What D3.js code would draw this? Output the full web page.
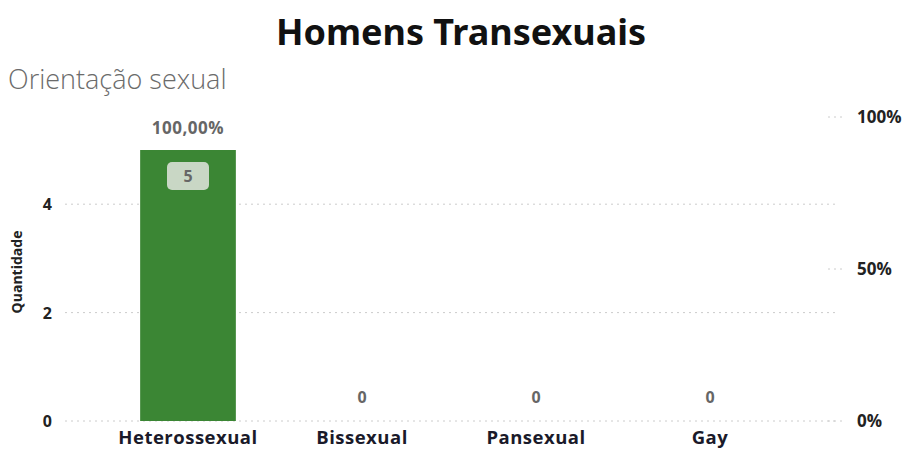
<!DOCTYPE html>
<html>
<head>
<meta charset="utf-8">
<script src="https://cdn.jsdelivr.net/npm/d3@7"></script>
<style>
  body { margin: 0; background: #fff; }
  text { font-family: "Open Sans", "Noto Sans", sans-serif; }
</style>
</head>
<body>
<div id="chart"></div>
<script>
const categories = ["Heterossexual", "Bissexual", "Pansexual", "Gay"];
const counts = [5, 0, 0, 0];
const percentLabels = ["100,00%"];
const leftTicks = [0, 2, 4];
const rightTicks = [0, 0.5, 1];

function buildChart() {
  const width = 913;
  const height = 450;

  const svg = d3.select("#chart")
    .append("svg")
    .attr("width", width)
    .attr("height", height);

  // titles
  svg.append("text")
    .attr("x", 461)
    .attr("y", 45)
    .attr("text-anchor", "middle")
    .style("font-family", "'Noto Sans', sans-serif")
    .style("font-size", "36px")
    .style("font-weight", "bold")
    .style("fill", "#111")
    .text("Homens Transexuais");

  svg.append("text")
    .attr("x", 8)
    .attr("y", 89)
    .style("font-size", "27px")
    .style("font-weight", "300")
    .style("fill", "#6b6b6b")
    .text("Orientação sexual");

  // scales
  const xScale = d3.scaleBand()
    .domain(categories)
    .range([101, 797])
    .paddingInner(0.45)
    .paddingOuter(0.225);

  const yScale = d3.scaleLinear()
    .domain([0, 5])
    .range([421, 150]);

  const yRight = d3.scaleLinear()
    .domain([0, 1])
    .range([421, 117]);

  // gridlines
  svg.append("g")
    .selectAll("line")
    .data(leftTicks)
    .join("line")
    .attr("x1", 65)
    .attr("x2", 835)
    .attr("y1", d => yScale(d))
    .attr("y2", d => yScale(d))
    .attr("stroke", "#ccc")
    .attr("stroke-width", 1)
    .attr("stroke-dasharray", "2,4");

  svg.append("g")
    .selectAll("line")
    .data(rightTicks)
    .join("line")
    .attr("x1", 828)
    .attr("x2", 842)
    .attr("y1", d => yRight(d))
    .attr("y2", d => yRight(d))
    .attr("stroke", "#ccc")
    .attr("stroke-dasharray", "2,4");

  // left axis
  const yAxis = d3.axisLeft(yScale).tickValues(leftTicks)
    .tickFormat(d3.format("d"))
    .tickSize(0).tickPadding(0);
  const gy = svg.append("g")
    .attr("transform", "translate(52,0)")
    .call(yAxis);
  gy.select(".domain").remove();
  gy.selectAll("text")
    .attr("dy", "0.35em")
    .style("font-size", "16px")
    .style("font-weight", "bold")
    .style("fill", "#222");

  // right axis
  const rAxis = d3.axisRight(yRight).tickValues(rightTicks)
    .tickFormat(d => Math.round(d * 100) + "%")
    .tickSize(0).tickPadding(0);
  const gr = svg.append("g")
    .attr("transform", "translate(857,0)")
    .call(rAxis);
  gr.select(".domain").remove();
  gr.selectAll("text")
    .attr("dy", "0.35em")
    .style("font-size", "17px")
    .style("font-weight", "bold")
    .style("fill", "#222");

  // y axis title
  svg.append("text")
    .attr("transform", "translate(22,272) rotate(-90)")
    .attr("text-anchor", "middle")
    .style("font-size", "14px")
    .style("font-weight", "bold")
    .style("fill", "#222")
    .text("Quantidade");

  // bars
  svg.append("g")
    .selectAll("rect")
    .data(categories)
    .join("rect")
    .attr("x", (d) => xScale(d))
    .attr("y", (d, i) => yScale(counts[i]))
    .attr("width", xScale.bandwidth())
    .attr("height", (d, i) => yScale(0) - yScale(counts[i]))
    .attr("fill", "#3b8634");

  // value labels
  categories.forEach((c, i) => {
    const cx = xScale(c) + xScale.bandwidth() / 2;
    if (counts[i] > 0) {
      svg.append("rect")
        .attr("x", cx - 21)
        .attr("y", yScale(counts[i]) + 12)
        .attr("width", 42)
        .attr("height", 28)
        .attr("rx", 5)
        .attr("fill", "#c9d7c5");
      svg.append("text")
        .attr("x", cx)
        .attr("y", yScale(counts[i]) + 26)
        .attr("dy", "0.35em")
        .attr("text-anchor", "middle")
        .style("font-size", "16px")
        .style("font-weight", "bold")
        .style("fill", "#666")
        .text(counts[i]);
      svg.append("text")
        .attr("x", cx)
        .attr("y", yScale(counts[i]) - 16)
        .attr("text-anchor", "middle")
        .style("font-size", "17px")
        .style("font-weight", "bold")
        .style("letter-spacing", "0.5px")
        .style("fill", "#666")
        .text(percentLabels[i]);
    } else {
      svg.append("text")
        .attr("x", cx)
        .attr("y", yScale(0) - 24)
        .attr("dy", "0.35em")
        .attr("text-anchor", "middle")
        .style("font-size", "16px")
        .style("font-weight", "bold")
        .style("fill", "#666")
        .text(counts[i]);
    }
  });

  // x axis
  const xAxis = d3.axisBottom(xScale).tickSize(0).tickPadding(0);
  const gx = svg.append("g")
    .attr("transform", "translate(0,431)")
    .call(xAxis);
  gx.select(".domain").remove();
  gx.selectAll("text")
    .attr("dy", "0.7em")
    .style("font-size", "18.5px")
    .style("font-weight", "bold")
    .style("letter-spacing", "0.5px")
    .style("fill", "#1a1a2a");
}

window.onload = buildChart;
</script>
</body>
</html>
